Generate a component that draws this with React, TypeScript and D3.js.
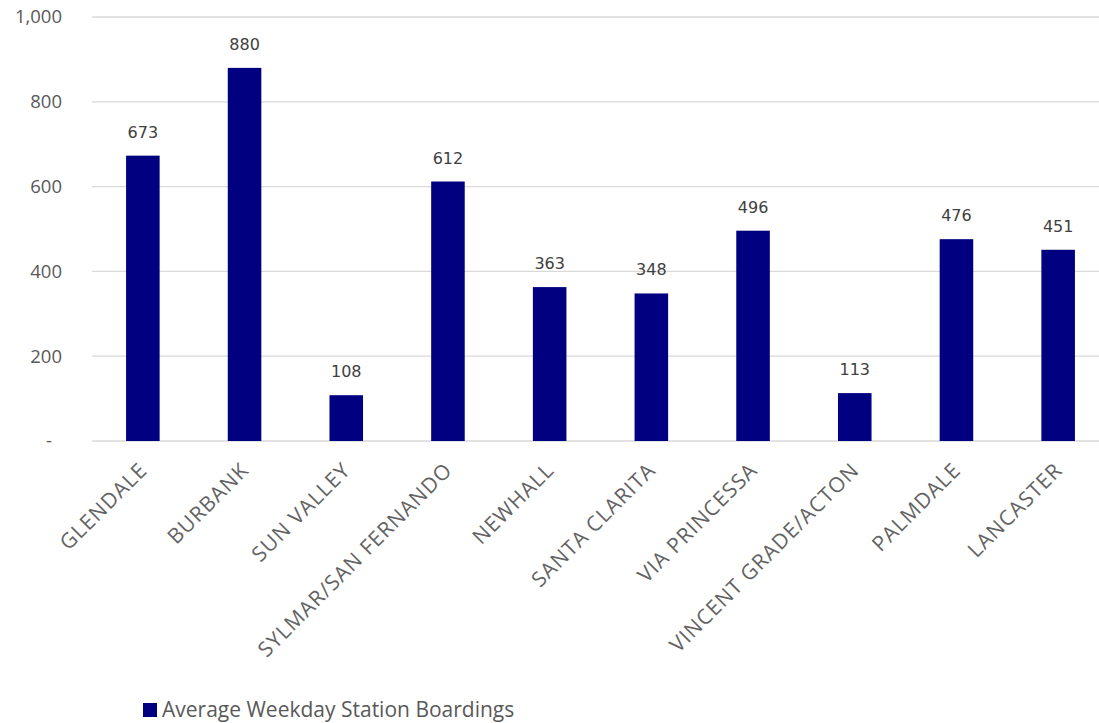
import React from "react";
import * as d3 from "d3";

const categories = ["GLENDALE", "BURBANK", "SUN VALLEY", "SYLMAR/SAN FERNANDO", "NEWHALL", "SANTA CLARITA", "VIA PRINCESSA", "VINCENT GRADE/ACTON", "PALMDALE", "LANCASTER"];
const boardings = [673, 880, 108, 612, 363, 348, 496, 113, 476, 451];
const yTicks = [0, 200, 400, 600, 800, 1000];
const seriesName = "Average Weekday Station Boardings";

const W = 1099, H = 723;

export default function App() {
  const x = d3.scaleBand<string>().domain(categories).range([92, 1109]).paddingInner(0.67).paddingOuter(0.335);
  const y = d3.scaleLinear().domain([0, 1000]).range([441, 17]);
  const fmt = (v: number) => (v === 0 ? "-" : d3.format(",")(v));
  const font = "'Open Sans', Lato, sans-serif";
  return (
    <svg width={W} height={H} style={{ position: "absolute", left: 0, top: 0, background: "#fff" }}>
      {yTicks.map((t) => (
        <g key={t}>
          <line x1={92} x2={W} y1={y(t)} y2={y(t)} stroke="#d9d9d9" strokeWidth={1.3} />
          <text x={t === 0 ? 52 : 62} y={y(t)} dy="0.35em" textAnchor="end" fontFamily={font} fontSize={18.5} fill="#595959">{fmt(t)}</text>
        </g>
      ))}
      {categories.map((c, i) => {
        const bx = x(c)!;
        const cx = bx + x.bandwidth() / 2;
        return (
          <g key={c}>
            <rect x={bx} y={y(boardings[i])} width={x.bandwidth()} height={y(0) - y(boardings[i])} fill="#000080" />
            <text x={cx} y={y(boardings[i]) - 18} textAnchor="middle" fontFamily="'DejaVu Sans', sans-serif" fontSize={16} fill="#404040">{boardings[i]}</text>
            <text transform={`translate(${cx - 5},${461}) rotate(-45)`} textAnchor="end" dy="0.71em" fontFamily={font} fontSize={21} letterSpacing={1} fill="#636363">{c}</text>
          </g>
        );
      })}
      <rect x={143} y={703} width={14} height={14} fill="#000080" />
      <text x={162} y={717} fontFamily={font} fontSize={21} fill="#595959">{seriesName}</text>
    </svg>
  );
}
